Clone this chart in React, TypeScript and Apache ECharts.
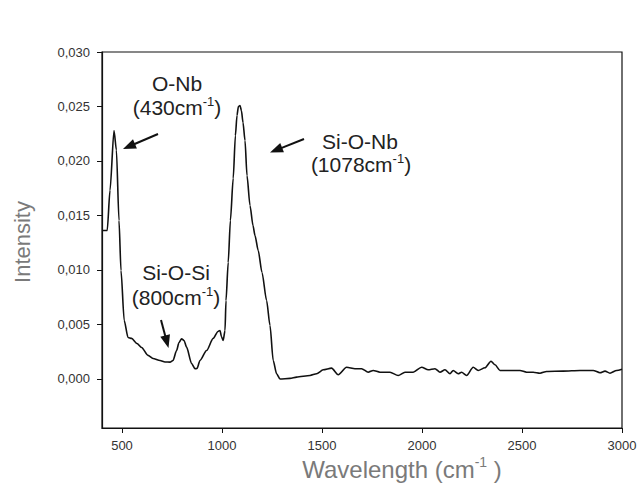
import React, { useEffect, useRef } from 'react';
import * as echarts from 'echarts';

const wavenumber = [400, 426, 440, 460, 472, 485, 495, 511, 530, 548, 575, 598, 630, 655, 690, 715, 740, 755, 773, 785, 798, 810, 823, 848, 865, 875, 890, 923, 956, 980, 990, 997, 1006, 1015, 1020, 1031, 1042, 1056, 1067, 1075, 1082, 1090, 1097, 1105, 1115, 1125, 1140, 1155, 1165, 1181, 1200, 1223, 1240, 1256, 1273, 1290, 1340, 1373, 1440, 1473, 1506, 1548, 1581, 1623, 1665, 1698, 1731, 1756, 1790, 1840, 1881, 1915, 1956, 1998, 2031, 2065, 2090, 2115, 2140, 2156, 2181, 2198, 2223, 2256, 2281, 2315, 2345, 2365, 2390, 2456, 2490, 2523, 2556, 2590, 2623, 2706, 2790, 2856, 2890, 2915, 2940, 2973, 3000];

const intensity = [0.01362, 0.01362, 0.0173, 0.0228, 0.021, 0.01454, 0.00995, 0.00537, 0.00381, 0.00372, 0.00326, 0.00289, 0.00216, 0.00188, 0.0017, 0.00156, 0.00154, 0.0017, 0.00261, 0.00335, 0.00369, 0.00353, 0.00292, 0.00142, 0.00094, 0.00096, 0.0017, 0.00261, 0.00372, 0.00436, 0.00445, 0.0039, 0.00353, 0.00445, 0.0072, 0.01069, 0.01454, 0.0184, 0.02234, 0.02418, 0.025, 0.02509, 0.02463, 0.02353, 0.02188, 0.01867, 0.01592, 0.01408, 0.01316, 0.01179, 0.00977, 0.0072, 0.00491, 0.0017, 0.00048, 0.0, 0.00005, 0.00017, 0.00032, 0.00048, 0.00084, 0.00099, 0.00039, 0.00108, 0.00094, 0.00094, 0.00062, 0.00078, 0.00062, 0.00062, 0.00032, 0.00062, 0.00062, 0.00108, 0.00084, 0.00094, 0.00062, 0.00084, 0.00048, 0.00078, 0.00048, 0.00062, 0.00032, 0.00108, 0.00078, 0.00103, 0.00163, 0.0013, 0.00078, 0.00078, 0.00078, 0.00062, 0.00062, 0.00053, 0.00069, 0.00072, 0.00078, 0.00078, 0.00057, 0.00072, 0.00053, 0.00078, 0.0009];

const xTicks = [500, 1000, 1500, 2000, 2500, 3000];
const yTicks = [0, 0.005, 0.01, 0.015, 0.02, 0.025, 0.03];

const FONT = '"Liberation Sans", Arial, Helvetica, sans-serif';

function arrow(x1: number, y1: number, x2: number, y2: number) {
  const dx = x2 - x1;
  const dy = y2 - y1;
  const len = Math.sqrt(dx * dx + dy * dy);
  const ux = dx / len;
  const uy = dy / len;
  const hl = 13;
  const hw = 10;
  const bx = x2 - ux * hl;
  const by = y2 - uy * hl;
  const nx = -uy;
  const ny = ux;
  return [
    {
      type: 'line',
      shape: { x1, y1, x2: bx + ux * 1, y2: by + uy * 1 },
      style: { stroke: '#111', lineWidth: 2 },
    },
    {
      type: 'polygon',
      shape: {
        points: [
          [x2, y2],
          [bx + (nx * hw) / 2, by + (ny * hw) / 2],
          [bx - (nx * hw) / 2, by - (ny * hw) / 2],
        ],
      },
      style: { fill: '#111' },
    },
  ];
}

function label(text: string, x: number, y: number, size: number, color: string, rotation = 0) {
  return {
    type: 'text',
    x,
    y,
    rotation,
    style: {
      text,
      align: 'center',
      verticalAlign: 'middle',
      fill: color,
      fontFamily: FONT,
      fontSize: size,
      rich: {
        n: { fontSize: size, fontFamily: FONT, fill: color, lineHeight: size + 4 },
        s: {
          fontSize: Math.round(size * 0.6),
          fontFamily: FONT,
          fill: color,
          lineHeight: Math.round(size * 0.6) + 2,
          verticalAlign: 'top',
        },
      },
    },
  };
}

export default function App() {
  const ref = useRef<HTMLDivElement>(null);
  useEffect(() => {
    if (!ref.current) return;
    const chart = echarts.init(ref.current, undefined, { renderer: 'svg' });
    const data = wavenumber.map((w, i) => [w, intensity[i]]);
    chart.setOption({
      animation: false,
      backgroundColor: '#fff',
      grid: {
        left: 102,
        right: 19,
        top: 52,
        bottom: 56,
        show: true,
        borderColor: '#111',
        borderWidth: 1.2,
        backgroundColor: 'transparent',
      },
      xAxis: {
        type: 'value',
        min: 400,
        max: 3000,
        splitLine: { show: false },
        axisLine: { show: true, onZero: false, lineStyle: { color: '#111', width: 1.2 } },
        axisTick: { show: true, inside: false, length: 5, customValues: xTicks, lineStyle: { color: '#111' } },
        axisLabel: {
          customValues: xTicks,
          margin: 11,
          fontSize: 13,
          fontFamily: FONT,
          color: '#333',
          formatter: (v: number) => String(v),
        },
      },
      yAxis: {
        type: 'value',
        min: -0.0045,
        max: 0.03,
        splitLine: { show: false },
        axisLine: { show: true, onZero: false, lineStyle: { color: '#111', width: 1.2 } },
        axisTick: { show: true, inside: false, length: 5, customValues: yTicks, lineStyle: { color: '#111' } },
        axisLabel: {
          customValues: yTicks,
          margin: 12,
          fontSize: 13,
          fontFamily: FONT,
          color: '#333',
          formatter: (v: number) => v.toFixed(3).replace('.', ','),
        },
      },
      series: [
        {
          type: 'line',
          data,
          showSymbol: false,
          smooth: 0.25,
          smoothMonotone: 'x',
          lineStyle: { color: '#111', width: 1.6 },
        },
      ],
      graphic: [
        label('{n|O-Nb}', 177, 83, 21, '#222'),
        label('{n|(430cm}{s|-1}{n|)}', 177, 107, 21, '#222'),
        label('{n|Si-O-Nb}', 360, 141, 21, '#222'),
        label('{n|(1078cm}{s|-1}{n|)}', 361, 164, 21, '#222'),
        label('{n|Si-O-Si}', 176, 272, 21, '#222'),
        label('{n|(800cm}{s|-1}{n|)}', 176, 297, 21, '#222'),
        ...arrow(158, 134, 123, 149),
        ...arrow(304, 139, 270, 152.5),
        ...arrow(161, 320, 168.5, 348),
        label('{n|Intensity}', 22, 242, 22, '#7a7a7a', Math.PI / 2),
        label('{n|Wavelength (cm}{s|-1}{n| )}', 402, 469, 24, '#7a7a7a'),
      ],
    });
    return () => chart.dispose();
  }, []);
  return (
    <div
      ref={ref}
      style={{ position: 'fixed', left: 0, top: 0, width: 641, height: 484, background: '#fff' }}
    />
  );
}
